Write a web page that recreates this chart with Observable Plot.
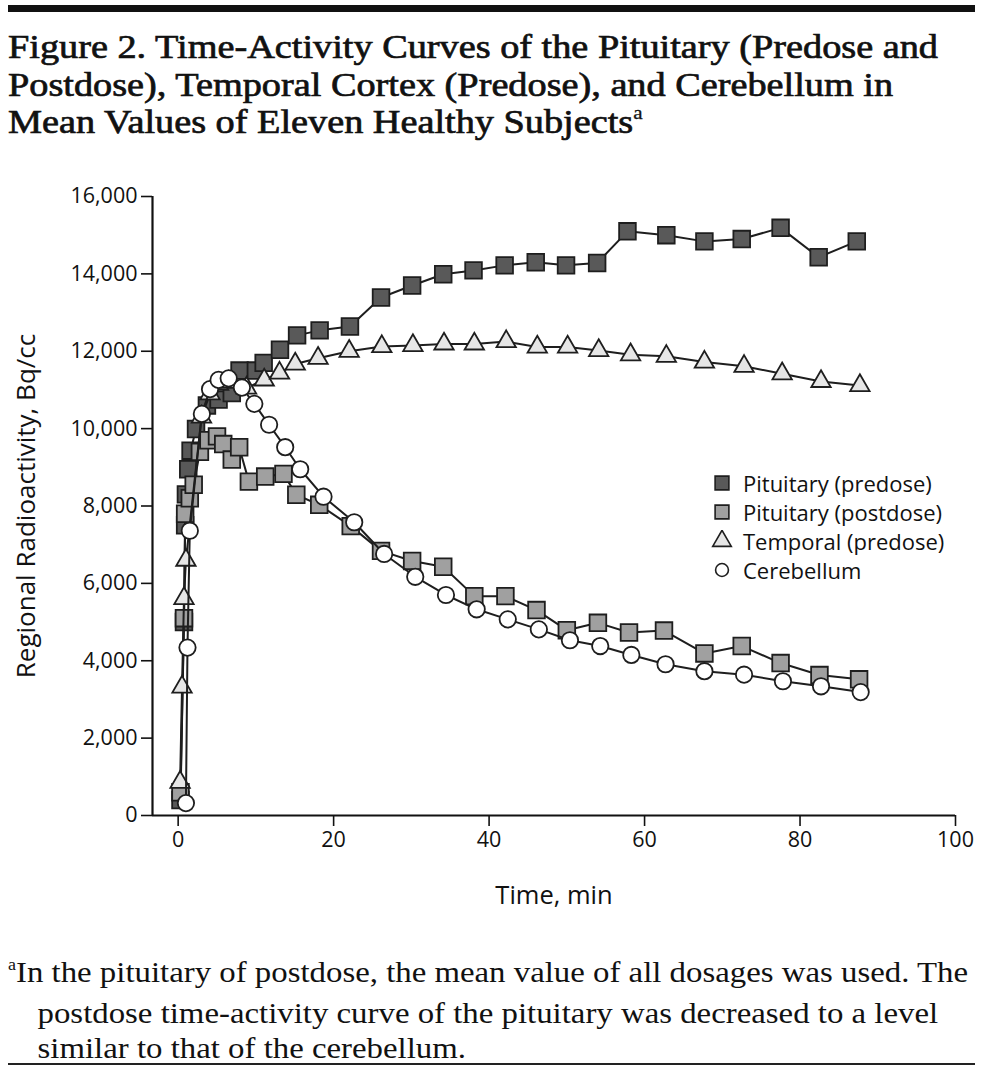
<!DOCTYPE html>
<html><head><meta charset="utf-8">
<script src="https://cdn.jsdelivr.net/npm/d3@7"></script>
<script src="https://cdn.jsdelivr.net/npm/@observablehq/plot@0.6"></script>
<style>
body{margin:0;background:#fff;}
#page{position:relative;width:981px;height:1070px;overflow:hidden;background:#fff;}
.rule-top{position:absolute;left:8px;top:5px;width:967px;height:7px;background:#111;}
.rule-bottom{position:absolute;left:8px;top:1063px;width:967px;height:2px;background:#222;}
#title{position:absolute;left:8px;top:28px;font-family:"Liberation Serif",serif;font-weight:normal;-webkit-text-stroke:0.7px #111;font-size:33.5px;line-height:37.5px;white-space:nowrap;transform-origin:0 0;color:#111;}
#title sup,#note sup{font-size:55%;vertical-align:0;position:relative;top:-0.75em;font-weight:normal;}
#title sup{-webkit-text-stroke:0.3px #111;}
#note{position:absolute;left:8px;top:954px;font-family:"Liberation Serif",serif;font-size:30px;line-height:35.5px;white-space:nowrap;transform-origin:0 0;color:#111;}
#note .ind{padding-left:27px;}
#chart{position:absolute;left:0;top:170px;}
#legend{position:absolute;left:711px;top:468px;font-family:"Open Sans",sans-serif;font-size:22px;color:#111;}
#legend .row{display:flex;align-items:center;height:29px;}
#legend svg{width:22px;height:22px;margin-right:10px;flex:none;}
</style></head>
<body><div id="page">
<div class="rule-top"></div>
<div id="title"><div id="t1">Figure 2. Time-Activity Curves of the Pituitary (Predose and</div><div>Postdose), Temporal Cortex (Predose), and Cerebellum in</div><div>Mean Values of Eleven Healthy Subjects<sup>a</sup></div></div>
<div id="chart"></div>
<div id="legend"></div>
<div id="note"><div id="n1"><sup>a</sup>In the pituitary of postdose, the mean value of all dosages was used. The</div><div class="ind">postdose time-activity curve of the pituitary was decreased to a level</div><div class="ind">similar to that of the cerebellum.</div></div>
<div class="rule-bottom"></div>
</div>
<script>
// [time (min), radioactivity (Bq/cc)]
const pituitaryPredose = [[0.3,400],[0.75,5000],[0.9,7500],[1.0,8300],[1.3,8950],[1.6,9430],[2.3,9990],[3.7,10600],[5.2,10750],[6.9,10920],[7.9,11500],[10.0,11500],[11.0,11700],[13.1,12040],[15.3,12410],[18.2,12540],[22.1,12640],[26.1,13390],[30.1,13700],[34.1,13990],[38.0,14090],[42.0,14220],[46.0,14300],[49.9,14220],[53.9,14280],[57.8,15100],[62.8,15000],[67.7,14840],[72.5,14900],[77.5,15190],[82.4,14430],[87.3,14840]];
const pituitaryPostdose = [[0.3,600],[0.75,5100],[0.9,7800],[1.5,8200],[2.0,8550],[2.8,9400],[3.9,9700],[5.0,9800],[5.8,9600],[6.9,9200],[7.85,9520],[9.1,8630],[11.2,8760],[13.55,8830],[15.2,8290],[18.15,8030],[22.2,7480],[26.1,6840],[30.1,6580],[34.1,6430],[38.1,5670],[42.1,5670],[46.1,5310],[50.0,4790],[54.0,4980],[58.0,4730],[62.5,4780],[67.7,4190],[72.5,4380],[77.5,3940],[82.5,3630],[87.6,3520]];
const temporalPredose = [[0.25,860],[0.5,3320],[0.75,5610],[1.0,6600],[3.0,10300],[4.1,10900],[5.2,11150],[6.5,11200],[8.8,11050],[11.07,11260],[13.04,11435],[15.06,11670],[18.0,11820],[22.0,12000],[26.2,12120],[30.2,12150],[34.2,12190],[38.1,12190],[42.2,12250],[46.2,12110],[50.1,12110],[54.1,12020],[58.2,11910],[62.8,11870],[67.7,11720],[72.8,11610],[77.7,11420],[82.7,11220],[87.7,11115]];
const cerebellum = [[1.0,320],[1.2,4340],[1.5,7360],[3.05,10380],[4.1,11020],[5.2,11260],[6.5,11300],[8.2,11060],[9.8,10640],[11.7,10100],[13.77,9520],[15.7,8950],[18.7,8240],[22.65,7580],[26.5,6760],[30.5,6170],[34.45,5700],[38.4,5330],[42.4,5070],[46.4,4810],[50.4,4530],[54.3,4380],[58.3,4150],[62.7,3910],[67.7,3730],[72.8,3640],[77.8,3470],[82.7,3340],[87.8,3190]];

const seriesNames = ["Pituitary (predose)","Pituitary (postdose)","Temporal (predose)","Cerebellum"];
const xTicks = [0,20,40,60,80,100];
const yTicks = [0,2000,4000,6000,8000,10000,12000,14000,16000];
const xLabel = "Time, min";
const yLabel = "Regional Radioactivity, Bq/cc";
const xDomain = [-3.3, 100];
const yDomain = [0, 16000];

const styles = [
  {data: pituitaryPredose, symbol: "square", r: 9.4, fill: "#595959"},
  {data: pituitaryPostdose, symbol: "square", r: 9.4, fill: "#a0a0a0"},
  {data: temporalPredose, symbol: "triangle", r: 7.2, fill: "#e6e6e6"},
  {data: cerebellum, symbol: "circle", r: 8.2, fill: "#ffffff"}
];

const marks = [];
styles.forEach(s => {
  marks.push(Plot.line(s.data, {x: d => d[0], y: d => d[1], stroke: "#1e1e1e", strokeWidth: 2}));
  marks.push(Plot.dot(s.data, {x: d => d[0], y: d => d[1], symbol: s.symbol, r: s.r, fill: s.fill, stroke: "#1e1e1e", strokeWidth: 1.8}));
});

const chart = Plot.plot({
  width: 981, height: 745,
  marginLeft: 152, marginRight: 26, marginTop: 26, marginBottom: 100,
  style: {fontFamily: "'Open Sans', sans-serif", fontSize: "21.5px", color: "#111", background: "transparent", overflow: "visible"},
  x: {domain: xDomain},
  y: {domain: yDomain},
  marks: [
    Plot.axisX({ticks: xTicks, tickSize: 11, tickPadding: 5, tickFormat: d3.format("d"), label: null, strokeWidth: 1.6}),
    Plot.axisY({ticks: yTicks, tickSize: 11, tickPadding: 4, tickFormat: d3.format(","), label: null, strokeWidth: 1.6}),
    Plot.text([yLabel], {text: d => d, frameAnchor: "left", textAnchor: "middle", lineAnchor: "middle", rotate: -90, dx: -126, fontSize: 26, fill: "#111"}),
    Plot.text([xLabel], {text: d => d, frameAnchor: "bottom", textAnchor: "middle", lineAnchor: "middle", dy: 80, fontSize: 25.5, fill: "#111"}),
    Plot.ruleY(yDomain.slice(0,1), {x1: xDomain[0], x2: xDomain[1], stroke: "#111", strokeWidth: 2.2}),
    Plot.ruleX(xDomain.slice(0,1), {y1: yDomain[0], y2: yDomain[1], stroke: "#111", strokeWidth: 2.2}),
    ...marks
  ]
});
document.getElementById("chart").appendChild(chart);

// legend
const legend = document.getElementById("legend");
styles.forEach((s, i) => {
  const row = document.createElement("div");
  row.className = "row";
  const sym = s.symbol === "square" ? d3.symbolSquare : s.symbol === "triangle" ? d3.symbolTriangle : d3.symbolCircle;
  const size = s.symbol === "square" ? 190 : s.symbol === "triangle" ? 150 : 130;
  const path = d3.symbol(sym, size)();
  row.innerHTML = `<svg viewBox="-11 -11 22 22"><path d="${path}" fill="${s.fill}" stroke="#1e1e1e" stroke-width="1.6"/></svg><span>${seriesNames[i]}</span>`;
  legend.appendChild(row);
});

// fit serif text blocks to the reference line widths
function fit(blockId, lineId, target) {
  const block = document.getElementById(blockId);
  const line = document.getElementById(lineId);
  const span = document.createElement("span");
  span.innerHTML = line.innerHTML;
  line.innerHTML = "";
  line.appendChild(span);
  const tw = span.getBoundingClientRect().width;
  block.style.transform = `scaleX(${target / tw})`;
}
fit("title", "t1", 930);
fit("note", "n1", 960);
</script>
</body></html>
